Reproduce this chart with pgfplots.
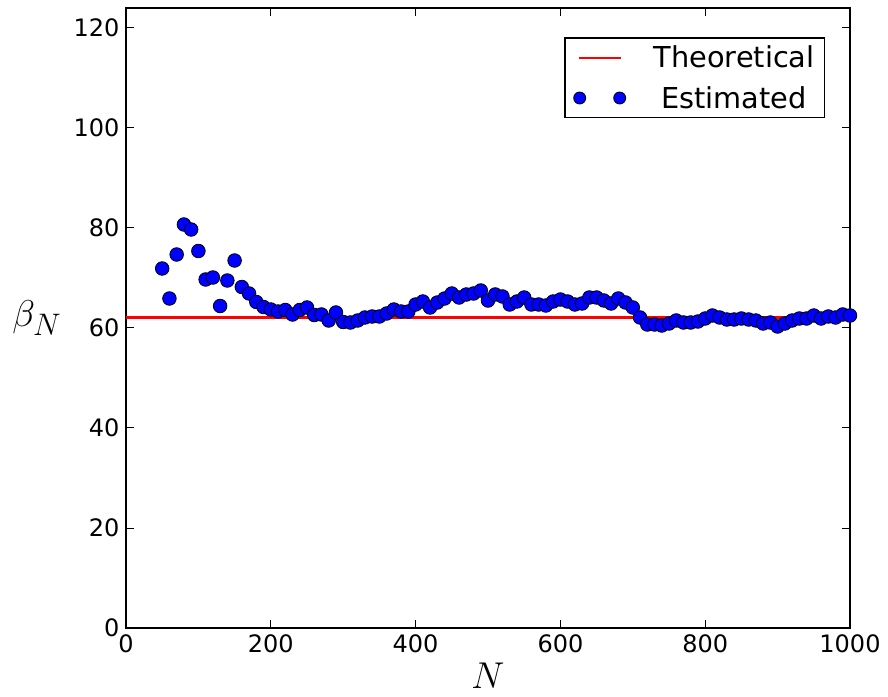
\documentclass[border=0pt]{standalone}
\usepackage{graphicx}
\usepackage{fontspec}
\setmainfont{DejaVu Sans}
\usepackage{pgfplots}
\pgfplotsset{compat=1.18}
\begin{document}
\begin{tikzpicture}[x=1pt,y=1pt]
\begin{axis}[
    at={(0,0)}, anchor=south west,
    width=724pt, height=620pt, scale only axis,
    xmin=0, xmax=1000, ymin=0, ymax=124,
    xtick={0,200,...,1000}, ytick={0,20,...,120},
    tick align=inside, major tick length=8pt,
    xtick pos=both, ytick pos=both,
    minor tick num=0,
    tick style={black, line width=1pt},
    axis line style={black, line width=1.6pt},
    ticklabel style={font=\fontsize{24}{26}\selectfont},
    xticklabel style={yshift=-3pt},
    yticklabel style={xshift=-3pt},
    /pgf/number format/assume math mode=true,
    /pgf/number format/1000 sep={},
    xlabel={\scalebox{1.5}{$N$}}, ylabel={\scalebox{1.5}{$\beta_N$}},
    xlabel style={font=\fontsize{24.88}{26}\selectfont, at={(axis description cs:0.5,-0.077)}, anchor=center},
    ylabel style={font=\fontsize{24.88}{26}\selectfont, rotate=-90, at={(axis description cs:-0.123,0.5)}, anchor=center},
    legend style={
        at={(0.966,0.953)}, anchor=north east,
        draw=black, line width=1.6pt,
        font=\fontsize{28.8}{30}\selectfont,
        nodes={inner sep=1pt},
        inner xsep=9pt, inner ysep=7pt,
        row sep=15pt,
        /tikz/every odd column/.append style={column sep=27pt},
    },
]
\addplot[red, line width=2.2pt, no markers,
    legend image code/.code={\draw (0pt,0pt) -- (42pt,0pt);}]
    coordinates {(0,62.1) (1000,62.1)};
\addlegendentry{Theoretical}

\addplot[only marks, mark=*, mark size=6.8pt,
    mark options={fill=blue, draw=black, line width=0.8pt},
    legend image code/.code={\draw[mark size=6pt] plot coordinates {(1pt,0pt) (41pt,0pt)};}]
    coordinates {
    (50,71.9) (60,65.9) (70,74.7) (80,80.7) (90,79.7) (100,75.4)
    (110,69.7) (120,70.1) (130,64.4) (140,69.5) (150,73.5) (160,68.2)
    (170,66.9) (180,65.2) (190,64.2) (200,63.7) (210,63.3) (220,63.6)
    (230,62.7) (240,63.6) (250,64.1) (260,62.6) (270,62.7) (280,61.5)
    (290,63.1) (300,61.2) (310,61.1) (320,61.5) (330,62.1) (340,62.3)
    (350,62.3) (360,62.9) (370,63.7) (380,63.3) (390,63.3) (400,64.7)
    (410,65.3) (420,64.1) (430,65.1) (440,65.9) (450,66.9) (460,66.1)
    (470,66.7) (480,66.9) (490,67.5) (500,65.5) (510,66.7) (520,66.3)
    (530,64.7) (540,65.3) (550,66.1) (560,64.7) (570,64.7) (580,64.5)
    (590,65.3) (600,65.7) (610,65.3) (620,64.7) (630,64.9) (640,66.1)
    (650,66.1) (660,65.5) (670,64.9) (680,65.9) (690,65.1) (700,64.1)
    (710,62.1) (720,60.7) (730,60.7) (740,60.5) (750,60.9) (760,61.5)
    (770,61.1) (780,61.1) (790,61.3) (800,61.9) (810,62.5) (820,62.1)
    (830,61.7) (840,61.7) (850,61.9) (860,61.7) (870,61.5) (880,60.9)
    (890,61.1) (900,60.3) (910,60.9) (920,61.5) (930,61.9) (940,61.9)
    (950,62.5) (960,61.9) (970,62.3) (980,62.1) (990,62.7) (1000,62.5)
    };
\addlegendentry{Estimated}
\end{axis}
\path[use as bounding box] (-126,-68) rectangle (762,628);
\end{tikzpicture}
\end{document}
